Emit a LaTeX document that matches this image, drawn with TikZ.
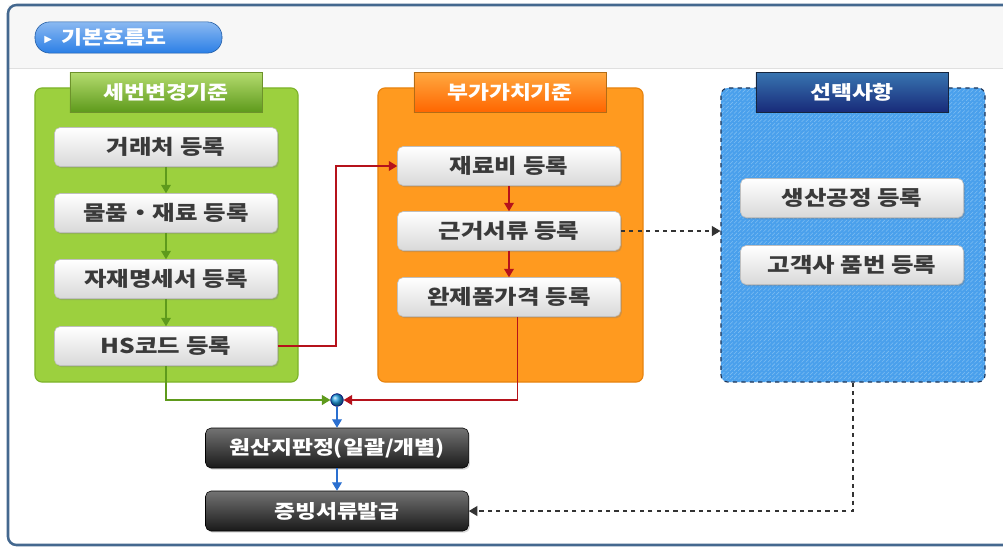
\documentclass[tikz,border=0pt]{standalone}
\usepackage{fontspec}
\setmainfont{Noto Sans CJK KR}[FakeStretch=1.2]
\newfontfamily\symfont{DejaVu Sans}
\usepackage{tikz}
\usetikzlibrary{positioning,arrows.meta,shadows,patterns}

\definecolor{frameblue}{HTML}{44688F}
\definecolor{greenfill}{HTML}{9CD03E}
\definecolor{greenline}{HTML}{7DB32A}
\definecolor{greenarr}{HTML}{5E9A1C}
\definecolor{orangefill}{HTML}{FF9A1F}
\definecolor{orangeline}{HTML}{E7830F}
\definecolor{optfill}{HTML}{4AA0EC}
\definecolor{opthatch}{HTML}{7DBDF2}
\definecolor{optline}{HTML}{1E3558}
\definecolor{redline}{HTML}{B5121B}
\definecolor{bluearr}{HTML}{2A6FD0}
\definecolor{titleblue}{HTML}{2B7FE6}
\definecolor{boxtext}{HTML}{3A3A3A}

\begin{document}
\begin{tikzpicture}[x=0.025cm,y=-0.025cm,
  lbl/.style={font=\bfseries\fontsize{14.5}{16}\selectfont},
  smalllbl/.style={font=\bfseries\fontsize{13.5}{15}\selectfont},
  panel/.style={rounded corners=5pt,minimum height=7.35cm,line width=0.8pt},
  tabhead/.style={smalllbl,text=white,minimum width=4.8cm,minimum height=1cm,
    draw=#1!70!black,drop shadow={opacity=0.25,shadow xshift=1pt,shadow yshift=-1pt}},
  stepbox/.style={lbl,text=boxtext,rounded corners=4pt,minimum width=5.575cm,
    minimum height=0.975cm,top color=white,bottom color=black!15,draw=black!25,
    drop shadow={opacity=0.35,shadow xshift=1pt,shadow yshift=-1.2pt}},
  darkbox/.style={smalllbl,text=white,rounded corners=4pt,minimum width=6.575cm,
    minimum height=1cm,top color=black!55,bottom color=black!90,draw=black,
    drop shadow={opacity=0.3,shadow xshift=1pt,shadow yshift=-1.2pt}},
  tip/.style={-{Triangle[length=6pt,width=7pt]}},
  ]
\useasboundingbox (0,0) rectangle (1003,548);

% frame and header band
\fill[white] (0,0) rectangle (1003,548);
\fill[black!3] (8,5) rectangle (1010,68);
\draw[black!12] (8,68) -- (1010,68);
\draw[frameblue,line width=1.8pt,rounded corners=6pt] (1010,5) -- (8,5) -- (8,545) -- (1010,545);

\node[smalllbl,text=white,rounded corners=10.5pt,minimum width=4.675cm,minimum height=0.78cm,
  top color=titleblue!55!white,bottom color=titleblue,draw=titleblue!70!black,
  text width=4.2cm,align=left] (title) at (128.5,37.5) {\raisebox{1.5pt}{\symfont\scriptsize▶}\, 기본흐름도};

% three groups
\node[panel,draw=greenline,fill=greenfill,minimum width=6.575cm] (hspanel) at (166.5,235) {};
\node[panel,draw=orangeline,fill=orangefill,minimum width=6.625cm] (vapanel) at (510.5,235) {};
\node[panel,draw=optline,dashed,preaction={fill=optfill},pattern=north east lines,
  pattern color=opthatch,minimum width=6.6cm] (optpanel) at (853,235) {};

\node[tabhead=greenfill,top color=greenfill!75!white,bottom color=greenarr] (hstab) at (166,92) {세번변경기준};
\node[tabhead=orangefill,top color=orangefill!85!white,bottom color=orange!80!red] (vatab) at (510,92) {부가가치기준};
\node[tabhead=optline,top color=optfill!60!optline,bottom color=optline!80!blue] (opttab) at (852,92) {선택사항};

% steps
\node[stepbox] (client) at (166,147) {거래처 등록};
\node[stepbox] (goods) at (166,213) {물품・재료 등록};
\node[stepbox] (bom) at (166,279) {자재명세서 등록};
\node[stepbox] (hscode) at (166,346) {HS코드 등록};

\node[stepbox] (matcost) at (509,166) {재료비 등록};
\node[stepbox] (basis) at (509,231) {근거서류 등록};
\node[stepbox] (price) at (509,297) {완제품가격 등록};

\node[stepbox] (process) at (852,198) {생산공정 등록};
\node[stepbox] (partno) at (852,265) {고객사 품번 등록};

\node[darkbox] (judge) at (337,448) {원산지판정(일괄/개별)};
\node[darkbox] (issue) at (337,511) {증빙서류발급};

\node[circle,inner sep=0pt,minimum size=9pt,ball color=bluearr!70!cyan,draw=blue!50!black] (join) at (337,400) {};
\coordinate (jog) at (336,250);

% connectors
\draw[greenarr,thick,tip] (client) -- (goods);
\draw[greenarr,thick,tip] (goods) -- (bom);
\draw[greenarr,thick,tip] (bom) -- (hscode);
\draw[greenarr,thick,tip] (hscode.south) |- (join.west);

\draw[redline,thick,tip] (matcost) -- (basis);
\draw[redline,thick,tip] (basis) -- (price);
\draw[redline,thick,tip] (hscode.east) -| (jog) |- (matcost.west);
\draw[redline,thick,tip] ([xshift=6pt]price.south) |- (join.east);

\draw[bluearr,thick,tip] (join) -- (judge);
\draw[bluearr,thick,tip] (judge) -- (issue);

\draw[black!80,thick,dashed,tip] (basis.east) -- (basis.east -| optpanel.west);
\draw[black!80,thick,dashed,tip] (optpanel.south) |- (issue.east);

\end{tikzpicture}
\end{document}
